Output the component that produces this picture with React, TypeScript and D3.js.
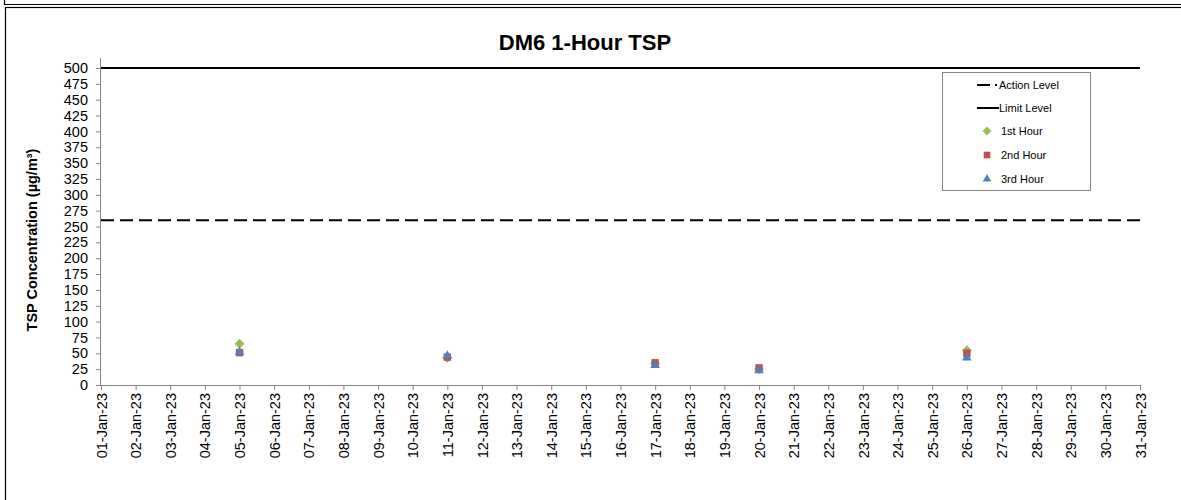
import React, { useEffect, useRef } from 'react';
import * as d3 from 'd3';

const sampleDates = ['2023-01-05', '2023-01-11', '2023-01-17', '2023-01-20', '2023-01-26'];
const hour1 = [65, 43, 34, 25, 55];
const hour2 = [51, 44, 35, 27, 50];
const hour3 = [52, 46, 31, 23, 43];
const actionLevel = 260;
const limitLevel = 500;
const yTicks = d3.range(0, 501, 25);

const FONT = 'Arial, "Liberation Sans", sans-serif';

function Chart() {
  const ref = useRef<SVGSVGElement>(null);

  useEffect(() => {
    const svg = d3.select(ref.current);
    svg.selectAll('*').remove();

    const left = 101, right = 1140, top = 68, bottom = 385;
    const parse = d3.utcParse('%Y-%m-%d');
    const x = d3.scaleUtc()
      .domain([parse('2023-01-01')!, parse('2023-01-31')!])
      .range([left, right]);
    const y = d3.scaleLinear().domain([0, 500]).range([bottom, top]);

    // frames
    svg.append('path').attr('d', 'M4.5,0 V4.5 H1181').attr('fill', 'none').attr('stroke', '#000').attr('stroke-width', 1.2);
    svg.append('rect').attr('x', 5.5).attr('y', 7.5).attr('width', 1200).attr('height', 520)
      .attr('fill', '#fff').attr('stroke', '#000').attr('stroke-width', 1.2);

    // title
    svg.append('text').attr('x', 585).attr('y', 50).attr('text-anchor', 'middle')
      .attr('font-family', FONT).attr('font-weight', 'bold').attr('font-size', 22)
      .text('DM6 1-Hour TSP');

    // y axis label
    svg.append('text').attr('transform', 'translate(37,240) rotate(-90)').attr('text-anchor', 'middle')
      .attr('font-family', FONT).attr('font-weight', 'bold').attr('font-size', 14.5)
      .text('TSP Concentration (µg/m³)');

    const yAxis = svg.append('g').attr('transform', `translate(${left},0)`)
      .call(d3.axisLeft(y).tickValues(yTicks).tickSize(5).tickPadding(8).tickFormat(d3.format('d')));
    yAxis.select('.domain').attr('stroke', '#868686').attr('d', `M-0.5,${top - 10}V${bottom}`);
    yAxis.selectAll('line').attr('stroke', '#868686');
    yAxis.selectAll('text').attr('font-family', FONT).attr('font-size', 14.5).attr('fill', '#000');

    const days = d3.utcDay.range(parse('2023-01-01')!, d3.utcDay.offset(parse('2023-01-31')!, 1));
    const xAxis = svg.append('g').attr('transform', `translate(0,${bottom})`)
      .call(d3.axisBottom(x).tickValues(days).tickSize(5).tickSizeOuter(0).tickFormat(d3.utcFormat('%d-%b-%y') as any));
    xAxis.select('.domain').attr('stroke', '#868686');
    xAxis.selectAll('line').attr('stroke', '#868686');
    xAxis.selectAll('text')
      .attr('font-family', FONT).attr('font-size', 14.5).attr('fill', '#000')
      .attr('text-anchor', 'end').attr('dy', '0.35em')
      .attr('transform', 'translate(0,8) rotate(-90)')
      .attr('x', 0).attr('y', 0);

    // level lines
    svg.append('line').attr('x1', left).attr('x2', right).attr('y1', y(actionLevel)).attr('y2', y(actionLevel))
      .attr('stroke', '#000').attr('stroke-width', 2).attr('stroke-dasharray', '13,6');
    svg.append('line').attr('x1', left).attr('x2', right).attr('y1', y(limitLevel)).attr('y2', y(limitLevel))
      .attr('stroke', '#000').attr('stroke-width', 2);

    const series = [
      { name: '1st Hour', values: hour1, color: '#9BBB59', symbol: d3.symbolDiamond2, size: 62 },
      { name: '2nd Hour', values: hour2, color: '#C0504D', symbol: d3.symbolSquare2, size: 70 },
      { name: '3rd Hour', values: hour3, color: '#4F81BD', symbol: d3.symbolTriangle2, size: 66 },
    ];

    series.forEach(s => {
      svg.append('g').selectAll('path')
        .data(s.values)
        .enter()
        .append('path')
        .attr('transform', (d, i) => `translate(${x(parse(sampleDates[i])!)},${y(d)})`)
        .attr('d', d3.symbol().type(s.symbol).size(s.size)() as string)
        .attr('fill', s.color);
    });

    // legend
    const lg = svg.append('g');
    lg.append('rect').attr('x', 942.5).attr('y', 72.5).attr('width', 148).attr('height', 118)
      .attr('fill', '#fff').attr('stroke', '#868686');
    const ly = [85, 108, 131, 155, 179];
    lg.append('line').attr('x1', 977).attr('x2', 990).attr('y1', ly[0]).attr('y2', ly[0]).attr('stroke', '#000').attr('stroke-width', 2);
    lg.append('rect').attr('x', 995).attr('y', ly[0] - 1).attr('width', 2).attr('height', 2).attr('fill', '#000');
    lg.append('text').attr('x', 999).attr('y', ly[0]).attr('dy', '0.35em').attr('font-family', FONT).attr('font-size', 11).text('Action Level');
    lg.append('line').attr('x1', 977).attr('x2', 999).attr('y1', ly[1]).attr('y2', ly[1]).attr('stroke', '#000').attr('stroke-width', 2);
    lg.append('text').attr('x', 999).attr('y', ly[1]).attr('dy', '0.35em').attr('font-family', FONT).attr('font-size', 11).text('Limit Level');
    series.forEach((s, i) => {
      lg.append('path').attr('transform', `translate(987,${ly[i + 2]})`)
        .attr('d', d3.symbol().type(s.symbol).size(s.size * 0.8)() as string).attr('fill', s.color);
      lg.append('text').attr('x', 1001).attr('y', ly[i + 2]).attr('dy', '0.35em')
        .attr('font-family', FONT).attr('font-size', 11).text(s.name);
    });
  }, []);

  return <svg ref={ref} width={1181} height={500} style={{ position: 'absolute', left: 0, top: 0, background: '#fff' }}></svg>;
}

export default function App() {
  return <Chart />;
}
